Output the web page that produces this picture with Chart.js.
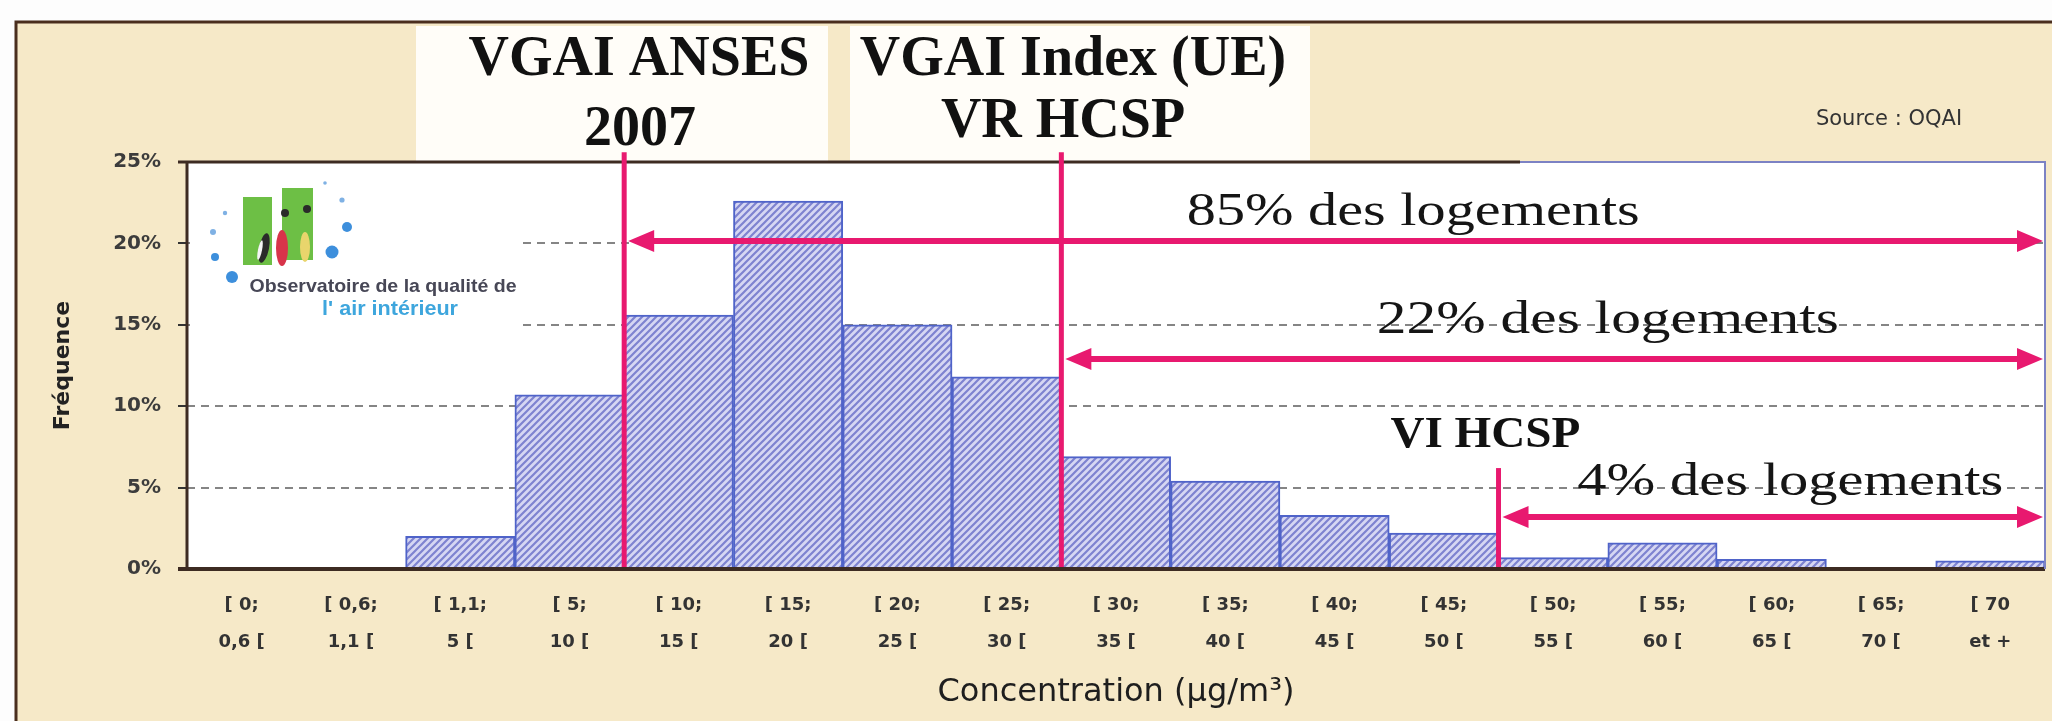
<!DOCTYPE html>
<html>
<head>
<meta charset="utf-8">
<title>Fréquence des concentrations</title>
<script src="https://cdn.jsdelivr.net/npm/chart.js@4.4.0/dist/chart.umd.min.js"></script>
<style>
  html, body { margin: 0; padding: 0; background: #fdfdfd; }
  canvas { display: block; }
</style>
</head>
<body>
<canvas id="concentrationChart" width="2052" height="721"></canvas>
<script>
'use strict';

// concentration classes (µg/m3), two lines per label
var classLabels = [
  ['[ 0;', '0,6 ['], ['[ 0,6;', '1,1 ['], ['[ 1,1;', '5 ['], ['[ 5;', '10 ['],
  ['[ 10;', '15 ['], ['[ 15;', '20 ['], ['[ 20;', '25 ['], ['[ 25;', '30 ['],
  ['[ 30;', '35 ['], ['[ 35;', '40 ['], ['[ 40;', '45 ['], ['[ 45;', '50 ['],
  ['[ 50;', '55 ['], ['[ 55;', '60 ['], ['[ 60;', '65 ['], ['[ 65;', '70 ['],
  ['[ 70', 'et +']
];

// share of dwellings in each class (%)
var frequencies = [0, 0, 2.0, 10.7, 15.6, 22.6, 15.0, 11.8, 6.9, 5.4, 3.3, 2.2, 0.7, 1.6, 0.6, 0, 0.5];

var yMax = 25;
var yStep = 5;

// guide values, placed between classes (category index units) and in % on y
var thresholdLines = [
  { at: 3.5, from: 25.6 },
  { at: 7.5, from: 25.6 },
  { at: 11.5, from: 6.2 }
];
var shareArrows = [
  { from: 3.5, y: 20.15, text: '85% des logements', textAt: 10.72, textY: 21.13, width: 453 },
  { from: 7.5, y: 12.9, text: '22% des logements', textAt: 12.5, textY: 14.5, width: 462 },
  { from: 11.5, y: 3.2, text: '4% des logements', textAt: 14.17, textY: 4.55, width: 426 }
];

var PINK = '#e8196f';
var canvas = document.getElementById('concentrationChart');
var ctx = canvas.getContext('2d');

var hatch = (function () {
  var tile = document.createElement('canvas');
  tile.width = 7;
  tile.height = 7;
  var g = tile.getContext('2d');
  g.fillStyle = '#d6d7f3';
  g.fillRect(0, 0, 7, 7);
  g.strokeStyle = '#7e83d0';
  g.lineWidth = 2.2;
  g.beginPath();
  g.moveTo(-1, 8); g.lineTo(8, -1);
  g.moveTo(-1, 1); g.lineTo(1, -1);
  g.moveTo(6, 8); g.lineTo(8, 6);
  g.stroke();
  return ctx.createPattern(tile, 'repeat');
})();

function stretchedText(g, text, cx, y, font, width, color) {
  g.save();
  g.font = font;
  g.fillStyle = color;
  g.textAlign = 'center';
  g.textBaseline = 'alphabetic';
  var sx = width ? width / g.measureText(text).width : 1;
  g.translate(cx, y);
  g.scale(sx, 1);
  g.fillText(text, 0, 0);
  g.restore();
}

function xAt(chart, v) {
  var xs = chart.scales.x;
  var p0 = xs.getPixelForValue(0);
  return p0 + v * (xs.getPixelForValue(1) - p0);
}

var backdrop = {
  id: 'backdrop',
  beforeDraw: function (chart) {
    var g = chart.ctx;
    var a = chart.chartArea;
    g.save();
    g.fillStyle = '#fdfdfd';
    g.fillRect(0, 0, chart.width, chart.height);
    g.fillStyle = '#f6e9c8';
    g.fillRect(16, 22, chart.width - 16, chart.height - 22);
    // white panels behind the guide value names
    g.fillStyle = '#fffdf8';
    g.fillRect(416, 26, 412, a.top - 26);
    g.fillRect(850, 26, 460, a.top - 26);
    g.fillStyle = '#ffffff';
    g.fillRect(a.left, a.top, a.right - a.left, a.bottom - a.top);
    // outer frame
    g.strokeStyle = '#4a2e1e';
    g.lineWidth = 3;
    g.beginPath();
    g.moveTo(16, chart.height);
    g.lineTo(16, 22);
    g.lineTo(chart.width, 22);
    g.stroke();
    g.restore();

    var serifBold = 'bold 56px "Liberation Serif", "Times New Roman", serif';
    stretchedText(g, 'VGAI ANSES', 639, 75, serifBold, 0, '#111');
    stretchedText(g, '2007', 640, 145, serifBold, 0, '#111');
    stretchedText(g, 'VGAI Index (UE)', 1073, 75, serifBold, 0, '#111');
    stretchedText(g, 'VR HCSP', 1063, 137, serifBold, 0, '#111');
    stretchedText(g, 'Source : OQAI', 1889, 125, '21px "DejaVu Sans", sans-serif', 0, '#333');
  },
  beforeDatasetsDraw: function (chart) {
    var g = chart.ctx;
    g.save();
    g.fillStyle = '#ffffff';
    g.fillRect(190, 165, 332, 162);
    // OQAI logo
    g.fillStyle = '#6dbf45';
    g.fillRect(243, 197, 29, 68);
    g.fillRect(282, 188, 31, 72);
    g.fillStyle = '#2a2a2a';
    g.beginPath(); g.ellipse(264, 248, 5, 15, 0.2, 0, Math.PI * 2); g.fill();
    g.beginPath(); g.arc(285, 213, 4, 0, Math.PI * 2); g.fill();
    g.beginPath(); g.arc(307, 209, 4, 0, Math.PI * 2); g.fill();
    g.fillStyle = '#d8344a';
    g.beginPath(); g.ellipse(282, 248, 6, 18, 0, 0, Math.PI * 2); g.fill();
    g.fillStyle = '#e9d56c';
    g.beginPath(); g.ellipse(305, 247, 5, 15, 0, 0, Math.PI * 2); g.fill();
    g.fillStyle = '#f4f4f4';
    g.beginPath(); g.ellipse(260, 250, 2, 10, 0.2, 0, Math.PI * 2); g.fill();
    var dots = [[325, 183, 1.8], [342, 200, 2.6], [347, 227, 5], [332, 252, 6.5],
      [225, 213, 2.2], [213, 232, 3], [215, 257, 4], [232, 277, 6]];
    dots.forEach(function (d) {
      g.fillStyle = d[2] > 3.5 ? '#3d8fdc' : '#7fb1e4';
      g.beginPath(); g.arc(d[0], d[1], d[2], 0, Math.PI * 2); g.fill();
    });
    g.restore();
    stretchedText(g, 'Observatoire de la qualité de', 383, 292, 'bold 19px "Liberation Sans", Arial, sans-serif', 267, '#474756');
    stretchedText(g, 'l\' air intérieur', 390, 315, 'bold 21px "Liberation Sans", Arial, sans-serif', 136, '#3ea6dd');
  },
  afterDatasetsDraw: function (chart) {
    var g = chart.ctx;
    var a = chart.chartArea;
    var ys = chart.scales.y;
    g.save();
    g.lineCap = 'butt';
    // plot frame
    g.strokeStyle = '#3d2b22';
    g.lineWidth = 3;
    g.beginPath();
    g.moveTo(a.left, a.top); g.lineTo(a.left, a.bottom);
    g.moveTo(a.left - 9, a.top); g.lineTo(1520, a.top);
    g.stroke();
    g.lineWidth = 4;
    g.beginPath();
    g.moveTo(a.left - 9, a.bottom); g.lineTo(a.right, a.bottom);
    g.stroke();
    g.strokeStyle = '#7c82c4';
    g.lineWidth = 2;
    g.beginPath();
    g.moveTo(1520, a.top); g.lineTo(a.right, a.top); g.lineTo(a.right, a.bottom);
    g.stroke();

    // guide value lines
    g.strokeStyle = PINK;
    g.lineWidth = 5;
    thresholdLines.forEach(function (t) {
      var x = xAt(chart, t.at);
      g.beginPath();
      g.moveTo(x, ys.getPixelForValue(t.from));
      g.lineTo(x, a.bottom - 2);
      g.stroke();
    });

    // double arrows with the share of dwellings above each value
    shareArrows.forEach(function (s) {
      var x1 = xAt(chart, s.from) + 4;
      var x2 = a.right - 2;
      var y = ys.getPixelForValue(s.y);
      var L = 26, H = 11;
      g.strokeStyle = PINK;
      g.lineWidth = 6;
      g.beginPath();
      g.moveTo(x1 + L - 4, y); g.lineTo(x2 - L + 4, y);
      g.stroke();
      g.fillStyle = PINK;
      g.beginPath();
      g.moveTo(x1, y); g.lineTo(x1 + L, y - H); g.lineTo(x1 + L, y + H); g.closePath();
      g.moveTo(x2, y); g.lineTo(x2 - L, y - H); g.lineTo(x2 - L, y + H); g.closePath();
      g.fill();
      stretchedText(g, s.text, xAt(chart, s.textAt), ys.getPixelForValue(s.textY),
        '46px "Liberation Serif", "Times New Roman", serif', s.width, '#151515');
    });
    g.restore();
    stretchedText(g, 'VI HCSP', xAt(chart, 11.38), ys.getPixelForValue(7.5),
      'bold 45px "Liberation Serif", "Times New Roman", serif', 190, '#111');
  }
};

var chart = new Chart(ctx, {
  type: 'bar',
  data: {
    labels: classLabels,
    datasets: [{
      data: frequencies,
      backgroundColor: hatch,
      borderColor: '#4f63c9',
      borderWidth: 2,
      barPercentage: 1,
      categoryPercentage: 1
    }]
  },
  options: {
    responsive: false,
    animation: false,
    devicePixelRatio: 1,
    layout: { padding: { top: 162, right: 7, left: 0, bottom: 0 } },
    plugins: {
      legend: { display: false },
      tooltip: { enabled: false }
    },
    scales: {
      x: {
        grid: { display: false, drawTicks: false },
        border: { display: false },
        ticks: {
          color: '#333333',
          font: { family: '"DejaVu Sans", sans-serif', size: 18, weight: 'bold', lineHeight: 2.05 },
          padding: 18,
          maxRotation: 0,
          autoSkip: false
        },
        title: {
          display: true,
          text: 'Concentration (µg/m³)',
          color: '#1e1e1e',
          font: { family: '"DejaVu Sans", sans-serif', size: 32 },
          padding: { top: 0, bottom: 9 }
        },
        afterFit: function (scale) { scale.height = 152; }
      },
      y: {
        min: 0,
        max: yMax,
        ticks: {
          stepSize: yStep,
          padding: 17,
          color: '#3c3c3c',
          font: { family: '"DejaVu Sans", sans-serif', size: 20, weight: 'bold' },
          callback: function (v) { return v + '%'; }
        },
        grid: {
          color: function (c) {
            return (c.tick && (c.tick.value === 0 || c.tick.value === yMax)) ? 'rgba(0,0,0,0)' : '#858585';
          },
          lineWidth: 2,
          tickLength: 9,
          tickColor: '#333',
          tickWidth: 2,
          tickBorderDash: []
        },
        border: { display: false, dash: [8, 6] },
        title: {
          display: true,
          text: 'Fréquence',
          color: '#222',
          font: { family: '"DejaVu Sans", sans-serif', size: 22, weight: 'bold' },
          padding: { top: 50, bottom: 0 }
        },
        afterFit: function (scale) { scale.width = 187; }
      }
    }
  },
  plugins: [backdrop]
});
</script>
</body>
</html>
